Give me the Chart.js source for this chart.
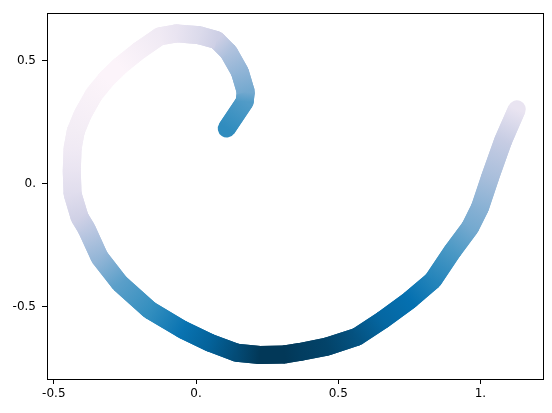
<!DOCTYPE html>
<html><head><meta charset="utf-8">
<script src="https://cdn.jsdelivr.net/npm/chart.js@4"></script>
<style>html,body{margin:0;padding:0;background:#fff}#wrap{width:552px;height:413px}</style>
</head><body><div id="wrap"><canvas id="c" width="552" height="413"></canvas></div>
<script>
// Curve centre line (data units), in drawing order
const xs = [0.108, 0.171, 0.175, 0.154, 0.115, 0.073, 0.013, -0.068, -0.128, -0.198,
  -0.268, -0.314, -0.360, -0.399, -0.423, -0.434, -0.437, -0.434, -0.409, -0.385,
  -0.339, -0.268, -0.163, -0.047, 0.048, 0.143, 0.224, 0.312, 0.365, 0.460,
  0.566, 0.657, 0.752, 0.833, 0.903, 0.963, 0.998, 1.033, 1.079, 1.128];
const ys = [0.225, 0.334, 0.374, 0.455, 0.535, 0.584, 0.604, 0.612, 0.600, 0.544,
  0.479, 0.427, 0.362, 0.281, 0.213, 0.144, 0.051, -0.042, -0.138, -0.183,
  -0.300, -0.405, -0.514, -0.594, -0.647, -0.688, -0.697, -0.695, -0.685, -0.663,
  -0.623, -0.554, -0.473, -0.393, -0.272, -0.179, -0.098, 0.023, 0.173, 0.303];
// Colour value at each point (0 = lightest, 1 = darkest of the colormap)
const cvals = [0.64, 0.57, 0.50, 0.43, 0.35, 0.26, 0.20, 0.14, 0.10, 0.06,
  0.02, 0.02, 0.04, 0.06, 0.08, 0.10, 0.14, 0.18, 0.25, 0.30,
  0.42, 0.55, 0.63, 0.74, 0.83, 0.93, 1.00, 1.00, 0.98, 0.96,
  0.90, 0.80, 0.75, 0.67, 0.58, 0.50, 0.45, 0.37, 0.28, 0.14];
const xTickValues = [-0.5, 0, 0.5, 1];
const xTickLabels = ['-0.5', '0.', '0.5', '1.'];
const yTickValues = [-0.5, 0, 0.5];
const yTickLabels = ['-0.5', '0.', '0.5'];

const PUBU = ['#fff7fb','#ece7f2','#d0d1e6','#a6bddb','#74a9cf','#3690c0','#0570b0','#045a8d','#023858'];
const PUBU_RGB = PUBU.map(h => [1,3,5].map(k => parseInt(h.substr(k,2),16)));
function cmap(v) {
  v = Math.max(0, Math.min(1, v));
  const t = v * (PUBU_RGB.length - 1);
  const i = Math.min(Math.floor(t), PUBU_RGB.length - 2);
  const f = t - i;
  const a = PUBU_RGB[i], b = PUBU_RGB[i+1];
  const c = a.map((av, k) => Math.round(av + (b[k]-av)*f));
  return 'rgb(' + c.join(',') + ')';
}
function segGradient(c) {
  const g = c.chart.ctx.createLinearGradient(c.p0.x, c.p0.y, c.p1.x, c.p1.y);
  g.addColorStop(0, cmap(cvals[c.p0DataIndex]));
  g.addColorStop(1, cmap(cvals[c.p1DataIndex]));
  return g;
}

const points = xs.map((x, i) => ({x: x, y: ys[i]}));
const FONT = {family: 'DejaVu Sans', size: 12};
const LW = 18;

new Chart(document.getElementById('c'), {
  type: 'scatter',
  data: {datasets: [
    { // top layer: clean segment bodies
      data: points, order: 1, showLine: true, borderWidth: LW,
      borderCapStyle: 'butt', pointRadius: 0, pointHoverRadius: 0,
      borderColor: cmap(cvals[0]),
      segment: {borderColor: segGradient}
    },
    { // under layer: round ends and joints
      data: points, order: 2, showLine: true, borderWidth: LW,
      borderCapStyle: 'round', pointRadius: 0, pointHoverRadius: 0,
      borderColor: cmap(cvals[0]),
      segment: {borderColor: segGradient}
    }
  ]},
  options: {
    responsive: false,
    animation: false,
    events: [],
    plugins: {legend: {display: false}, tooltip: {enabled: false}},
    layout: {padding: {top: 10.5, right: 8.5, left: 0, bottom: 0}},
    scales: {
      x: {
        type: 'linear', position: 'bottom', min: -0.524, max: 1.2217,
        afterBuildTicks: s => { s.ticks = xTickValues.map(v => ({value: v})); },
        afterFit: s => { s.height = 34; },
        ticks: {callback: v => xTickLabels[xTickValues.indexOf(v)], color: '#000', font: FONT, padding: 3, maxRotation: 0, autoSkip: false},
        grid: {drawOnChartArea: false, drawTicks: true, tickLength: 5, tickColor: '#000', tickWidth: 1},
        border: {color: '#000', width: 1}
      },
      y: {
        type: 'linear', position: 'left', min: -0.795, max: 0.694,
        afterBuildTicks: s => { s.ticks = yTickValues.map(v => ({value: v})); },
        afterFit: s => { s.width = 47; },
        ticks: {callback: v => yTickLabels[yTickValues.indexOf(v)], color: '#000', font: FONT, padding: 6, autoSkip: false},
        grid: {drawOnChartArea: false, drawTicks: true, tickLength: 5, tickColor: '#000', tickWidth: 1},
        border: {color: '#000', width: 1}
      },
      x2: {
        type: 'linear', position: 'top', min: -0.524, max: 1.2217,
        afterFit: s => { s.height = 0; },
        ticks: {display: false}, grid: {display: false},
        border: {display: true, color: '#000', width: 1}
      },
      y2: {
        type: 'linear', position: 'right', min: -0.795, max: 0.694,
        afterFit: s => { s.width = 0; },
        ticks: {display: false}, grid: {display: false},
        border: {display: true, color: '#000', width: 1}
      }
    }
  }
});
</script>
</body></html>
